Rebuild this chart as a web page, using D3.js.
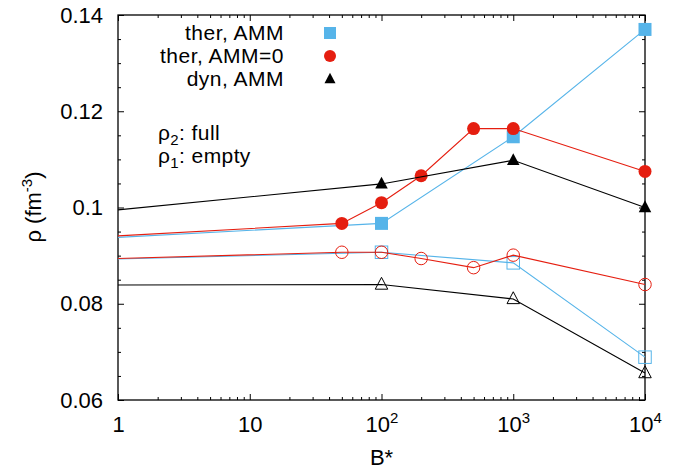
<!DOCTYPE html>
<html>
<head>
  <meta charset="UTF-8">
  <style>
    body { margin: 0; background: #fff; }
    svg { display: block; font-family: "Liberation Sans", Arial, sans-serif; }
  </style>
  <script src="https://d3js.org/d3.v7.min.js"></script>
</head>
<body>
<svg id="chart" width="680" height="471"></svg>
<script>
// values (B* = 1 is where the lines enter at the left edge)
var B_therAMM = [1, 100, 1000, 10000];
var rho2_therAMM = [0.0938, 0.0967, 0.1147, 0.1370];
var rho1_therAMM = [0.0893, 0.0907, 0.0885, 0.0689];

var B_therAMM0 = [1, 50, 100, 200, 500, 1000, 10000];
var rho2_therAMM0 = [0.0941, 0.0967, 0.1010, 0.1066, 0.1164, 0.1164, 0.1075];
var rho1_therAMM0 = [0.0894, 0.0907, 0.0907, 0.0894, 0.0875, 0.0901, 0.0840];

var B_dynAMM = [1, 100, 1000, 10000];
var rho2_dynAMM = [0.0995, 0.1049, 0.1098, 0.1000];
var rho1_dynAMM = [0.0839, 0.0840, 0.0810, 0.0656];

var legendLabels = ["ther, AMM", "ther, AMM=0", "dyn, AMM"];
var yTicks = [0.06, 0.08, 0.1, 0.12, 0.14];
var xTicks = [1, 10, 100, 1000, 10000];

var blue = "#56b4e9", red = "#e51e10", black = "#000";

var margin = {top: 15, right: 35, bottom: 71, left: 118};
var width = 680 - margin.left - margin.right,
    height = 471 - margin.top - margin.bottom;

var svg = d3.select("#chart");
var g = svg.append("g").attr("transform", "translate(" + margin.left + "," + margin.top + ")");

var x = d3.scaleLog().domain([1, 1e4]).range([0, width]);
var y = d3.scaleLinear().domain([0.06, 0.14]).range([height, 0]);

// minor tick values
var xMinor = [];
[1, 10, 100, 1000].forEach(function(d){ for (var k = 2; k <= 9; k++) xMinor.push(d * k); });
var yMinor = d3.range(0.065, 0.14, 0.005).filter(function(v){ return Math.abs(v / 0.02 - Math.round(v / 0.02)) > 0.01; });

function noDomain(sel){ sel.select(".domain").remove(); sel.selectAll("line").attr("stroke", "#000"); }

// bottom axis
var gx = g.append("g").attr("transform", "translate(0," + height + ")")
  .call(d3.axisBottom(x).tickValues(xTicks).tickSize(-6).tickPadding(16).tickFormat(""))
  .call(noDomain);
g.append("g").attr("transform", "translate(0," + height + ")")
  .call(d3.axisBottom(x).tickValues(xMinor).tickSize(-3).tickFormat("")).call(noDomain);
// top
g.append("g").call(d3.axisTop(x).tickValues(xTicks).tickSize(-6).tickFormat("")).call(noDomain);
g.append("g").call(d3.axisTop(x).tickValues(xMinor).tickSize(-3).tickFormat("")).call(noDomain);
// left
g.append("g")
  .call(d3.axisLeft(y).tickValues(yTicks).tickSize(-6).tickPadding(15).tickFormat(d3.format("~g")))
  .call(noDomain)
  .selectAll("text").attr("font-size", 22).attr("fill", "#000").attr("font-family", null);
g.append("g").call(d3.axisLeft(y).tickValues(yMinor).tickSize(-3).tickFormat("")).call(noDomain);
// right
g.append("g").attr("transform", "translate(" + width + ",0)")
  .call(d3.axisRight(y).tickValues(yTicks).tickSize(-6).tickFormat("")).call(noDomain);
g.append("g").attr("transform", "translate(" + width + ",0)")
  .call(d3.axisRight(y).tickValues(yMinor).tickSize(-3).tickFormat("")).call(noDomain);

svg.selectAll(".tick text").attr("font-family", null);

// x tick labels with superscripts
gx.selectAll(".tick").append("text")
  .attr("y", 16).attr("dy", "0.71em").attr("text-anchor", "middle")
  .attr("font-size", 22).attr("fill", "#000")
  .each(function(d){
    var t = d3.select(this), e = Math.round(Math.log10(d));
    if (e < 2) { t.text(String(d)); return; }
    t.append("tspan").text("10");
    t.append("tspan").attr("font-size", 15).attr("dy", -9).text(String(e));
  });

// frame
g.append("rect").attr("width", width).attr("height", height)
  .attr("fill", "none").attr("stroke", "#000").attr("stroke-width", 1.3);

// series
var series = [
  {B: B_therAMM,  v: rho1_therAMM,  color: blue,  shape: "square",   filled: false},
  {B: B_therAMM0, v: rho1_therAMM0, color: red,   shape: "circle",   filled: false},
  {B: B_dynAMM,   v: rho1_dynAMM,   color: black, shape: "triangle", filled: false},
  {B: B_therAMM,  v: rho2_therAMM,  color: blue,  shape: "square",   filled: true},
  {B: B_therAMM0, v: rho2_therAMM0, color: red,   shape: "circle",   filled: true},
  {B: B_dynAMM,   v: rho2_dynAMM,   color: black, shape: "triangle", filled: true}
];

var line = d3.line().x(function(d){ return x(d[0]); }).y(function(d){ return y(d[1]); });

function marker(sel, shape, color, filled, s) {
  var m;
  if (shape === "square") {
    m = sel.append("rect").attr("x", -s / 2).attr("y", -s / 2).attr("width", s).attr("height", s);
  } else if (shape === "circle") {
    m = sel.append("circle").attr("r", s / 2);
  } else {
    var h = s * 0.5;
    m = sel.append("path").attr("d", "M0," + (-h * 1.15) + "L" + h + "," + (h * 0.75) + "L" + (-h) + "," + (h * 0.75) + "Z");
  }
  if (filled) m.attr("fill", color).attr("stroke", "none");
  else m.attr("fill", "none").attr("stroke", color).attr("stroke-width", 1);
}

series.forEach(function(s){
  var pts = s.B.map(function(b, i){ return [b, s.v[i]]; });
  g.append("path").datum(pts).attr("d", line)
    .attr("fill", "none").attr("stroke", s.color).attr("stroke-width", 1.1);
  g.selectAll(null).data(pts.filter(function(p){ return p[0] > x.domain()[0]; }))
    .enter().append("g")
    .attr("transform", function(p){ return "translate(" + x(p[0]) + "," + y(p[1]) + ")"; })
    .each(function(){ marker(d3.select(this), s.shape, s.color, s.filled, s.shape === "triangle" ? 12.5 : (s.filled ? 13 : 12.5)); });
});

// legend
var legendShapes = [["square", blue], ["circle", red], ["triangle", black]];
legendLabels.forEach(function(lab, i){
  var by = 39.5 + i * 23;
  svg.append("text").attr("x", 284).attr("y", by).attr("text-anchor", "end")
    .attr("font-size", 21).attr("letter-spacing", 0.5).text(lab);
  var mg = svg.append("g").attr("transform", "translate(330," + (by - 6.5) + ")");
  marker(mg, legendShapes[i][0], legendShapes[i][1], true, i === 2 ? 11 : 12);
});

// annotation
function rhoLabel(yb, sub, rest) {
  var t = svg.append("text").attr("x", 158).attr("y", yb).attr("font-size", 21).attr("letter-spacing", 0.4);
  t.append("tspan").text("\u03c1");
  t.append("tspan").attr("font-size", 15).attr("dy", 5).text(sub);
  t.append("tspan").attr("dy", -5).text(rest);
}
rhoLabel(140, "2", ": full");
rhoLabel(163, "1", ": empty");

// axis titles
svg.append("text").attr("x", margin.left + width / 2).attr("y", 465)
  .attr("text-anchor", "middle").attr("font-size", 22).text("B*");
var yl = svg.append("text").attr("transform", "translate(41,207) rotate(-90)")
  .attr("text-anchor", "middle").attr("font-size", 22);
yl.append("tspan").text("\u03c1 (fm");
yl.append("tspan").attr("font-size", 15).attr("dy", -9).text("-3");
yl.append("tspan").attr("dy", 9).text(")");
</script>
</body>
</html>
